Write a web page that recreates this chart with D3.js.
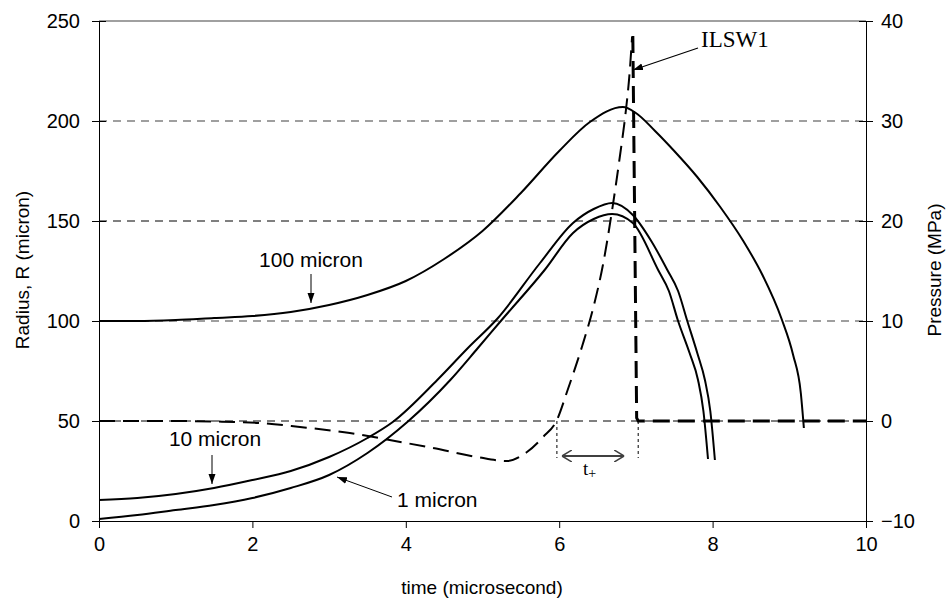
<!DOCTYPE html>
<html>
<head>
<meta charset="utf-8" />
<title>Bubble radius and pressure</title>
<script src="https://d3js.org/d3.v7.min.js"></script>
<style>
  body { margin: 0; background: #fff; }
  text { font-family: "Liberation Sans", Arial, sans-serif; font-size: 20px; fill: #000; }
  .serif { font-family: "Liberation Serif", "Times New Roman", serif; }
</style>
</head>
<body>
<svg id="chart" width="947" height="607"></svg>
<script>
// radius of the 100 micron bubble
var time100 = [0, 0.5, 1.0, 1.5, 2.0, 2.5, 3.0, 3.5, 4.0, 4.5, 5.0, 5.5, 6.0, 6.4, 6.83, 7.0, 7.25, 7.5, 7.8, 8.1, 8.4, 8.65, 8.9, 9.05, 9.15, 9.19];
var radius100 = [100, 100, 100.5, 101.5, 102.5, 104.5, 108, 113, 120, 131, 145, 164, 185, 199.5, 207, 204, 195, 185, 172, 157, 140, 123, 101, 83, 64, 46.5];

// radius of the 10 micron bubble
var time10 = [0, 0.5, 1.0, 1.5, 2.0, 2.5, 3.0, 3.5, 3.83, 4.41, 4.81, 5.19, 5.75, 6.18, 6.45, 6.69, 6.96, 7.2, 7.41, 7.55, 7.67, 7.8, 7.9, 7.97, 8.03];
var radius10 = [10.5, 11.5, 13.5, 16.5, 20.5, 25, 32, 41.5, 49.5, 70.5, 86.5, 101, 129, 149, 156, 159, 153, 140, 125.5, 115, 100, 84, 70.5, 55, 30.5];

// radius of the 1 micron bubble
var time1 = [0, 0.5, 1.0, 1.5, 2.0, 2.5, 3.0, 3.5, 4.02, 4.58, 4.94, 5.25, 5.81, 6.18, 6.45, 6.69, 6.96, 7.29, 7.43, 7.55, 7.7, 7.81, 7.88, 7.94];
var radius1 = [1, 3, 5.5, 8, 11.5, 16.5, 23, 34, 49.5, 70.5, 86.5, 100.5, 125.5, 144, 151, 153.5, 149, 125.5, 115, 100, 84, 70.5, 55, 31];

// pressure (MPa)
var timeP = [0, 1.0, 1.5, 2.1, 2.62, 3.27, 3.79, 4.35, 4.93, 5.32, 5.58, 5.79, 5.97, 6.11, 6.3, 6.45, 6.57, 6.69, 6.79, 6.87, 6.92, 6.95];
var pressure = [0, 0, -0.05, -0.2, -0.6, -1.2, -1.9, -2.7, -3.6, -4.0, -3.1, -1.6, 0.1, 3.1, 7.5, 11.5, 15.6, 21.1, 26.4, 31.1, 35, 38.4];

// ILSW1
var timeW = [6.96, 7.01, 7.03, 10];
var pressureW = [38.5, 0.3, 0, 0];

var xTicks = [0, 2, 4, 6, 8, 10];
var rTicks = [0, 50, 100, 150, 200, 250];
var pTicks = [-10, 0, 10, 20, 30, 40];

var tPlusStart = 5.97, tPlusEnd = 7.03;

var svg = d3.select("#chart");

var x = d3.scaleLinear().domain([0, 10]).range([99, 866]);
var yR = d3.scaleLinear().domain([0, 250]).range([521, 21]);
var yP = d3.scaleLinear().domain([-10, 40]).range([521, 21]);

function zip(a, b) {
    return a.map(function(d, i) { return [d, b[i]]; });
}

// gridlines
svg.append("g").selectAll("line")
    .data(rTicks.slice(1, 5))
    .enter().append("line")
    .attr("x1", x(0)).attr("x2", x(10))
    .attr("y1", function(d) { return yR(d); })
    .attr("y2", function(d) { return yR(d); })
    .attr("stroke", function(d) { return d % 100 == 0 ? "#808080" : "#000"; })
    .attr("stroke-width", function(d) { return d % 100 == 0 ? 1.5 : 1; })
    .attr("stroke-dasharray", "8,6");

svg.append("line")
    .attr("x1", x(0)).attr("x2", x(10))
    .attr("y1", yR(250)).attr("y2", yR(250))
    .attr("stroke", "#808080").attr("stroke-width", 1.5);

// axes
var xAxis = svg.append("g")
    .attr("transform", "translate(0," + yR(0) + ")")
    .call(d3.axisBottom(x).tickValues(xTicks).tickSizeOuter(0).tickSizeInner(7).tickPadding(9));

var leftAxis = svg.append("g")
    .attr("transform", "translate(" + x(0) + ",0)")
    .call(d3.axisLeft(yR).tickValues(rTicks).tickSizeOuter(0).tickSizeInner(7).tickPadding(12));
leftAxis.selectAll(".tick line").attr("x1", 7);

var rightAxis = svg.append("g")
    .attr("transform", "translate(" + x(10) + ",0)")
    .call(d3.axisRight(yP).tickValues(pTicks).tickSizeOuter(0).tickSizeInner(7).tickPadding(8));
rightAxis.selectAll(".tick line").attr("x1", -7);

svg.selectAll(".tick text").style("font-size", "20px").attr("font-family", null);
svg.selectAll(".domain, .tick line").attr("stroke", "#000");

// axis titles
svg.append("text")
    .attr("x", 482).attr("y", 594)
    .attr("text-anchor", "middle")
    .style("font-size", "19px")
    .text("time (microsecond)");

svg.append("text")
    .attr("transform", "translate(29,270) rotate(-90)")
    .attr("text-anchor", "middle")
    .style("font-size", "19px")
    .text("Radius, R (micron)");

svg.append("text")
    .attr("transform", "translate(941,270) rotate(-90)")
    .attr("text-anchor", "middle")
    .style("font-size", "19px")
    .text("Pressure (MPa)");

// markers
var defs = svg.append("defs");
defs.append("marker")
    .attr("id", "head")
    .attr("viewBox", "0 0 10 10")
    .attr("refX", 10).attr("refY", 5)
    .attr("markerWidth", 10).attr("markerHeight", 10)
    .attr("markerUnits", "userSpaceOnUse")
    .attr("orient", "auto")
    .append("path").attr("d", "M0,1.5 L10,5 L0,8.5 Z").attr("fill", "#000");

defs.append("marker")
    .attr("id", "chev")
    .attr("viewBox", "0 0 10 12")
    .attr("refX", 10).attr("refY", 6)
    .attr("markerWidth", 10).attr("markerHeight", 12)
    .attr("markerUnits", "userSpaceOnUse")
    .attr("orient", "auto-start-reverse")
    .append("path").attr("d", "M0,0 L10,6 L0,12").attr("fill", "none")
    .attr("stroke", "#404040").attr("stroke-width", 1.5);

// curves
var lineR = d3.line()
    .x(function(d) { return x(d[0]); })
    .y(function(d) { return yR(d[1]); })
    .curve(d3.curveMonotoneX);

var lineP = d3.line()
    .x(function(d) { return x(d[0]); })
    .y(function(d) { return yP(d[1]); })
    .curve(d3.curveMonotoneX);

[zip(time100, radius100), zip(time10, radius10), zip(time1, radius1)].forEach(function(s) {
    svg.append("path")
        .attr("d", lineR(s))
        .attr("fill", "none")
        .attr("stroke", "#000")
        .attr("stroke-width", 2);
});

svg.append("path")
    .attr("d", lineP(zip(timeP, pressure)))
    .attr("fill", "none")
    .attr("stroke", "#000")
    .attr("stroke-width", 2)
    .attr("stroke-dasharray", "16,8");

svg.append("path")
    .attr("d", lineP.curve(d3.curveLinear)(zip(timeW, pressureW)))
    .attr("fill", "none")
    .attr("stroke", "#000")
    .attr("stroke-width", 3)
    .attr("stroke-dasharray", "17,8");

// t+ annotation
[tPlusStart, tPlusEnd].forEach(function(t) {
    svg.append("line")
        .attr("x1", x(t)).attr("x2", x(t))
        .attr("y1", yP(0)).attr("y2", yP(-3.7))
        .attr("stroke", "#000").attr("stroke-width", 1)
        .attr("stroke-dasharray", "3,3");
});

svg.append("line")
    .attr("x1", x(tPlusStart) + 5).attr("x2", x(tPlusEnd) - 14)
    .attr("y1", yP(-3.5)).attr("y2", yP(-3.5))
    .attr("stroke", "#404040").attr("stroke-width", 2)
    .attr("marker-start", "url(#chev)")
    .attr("marker-end", "url(#chev)");

var tp = svg.append("text")
    .attr("class", "serif")
    .attr("x", 583).attr("y", 475)
    .style("font-size", "19px");
tp.append("tspan").text("t");
tp.append("tspan").attr("dy", 3).style("font-size", "14px").text("+");

// labels with arrows
svg.append("text").attr("x", 311).attr("y", 267).attr("text-anchor", "middle").style("font-size", "21px").text("100 micron");
svg.append("line").attr("x1", 311).attr("y1", 274).attr("x2", 311).attr("y2", 303)
    .attr("stroke", "#000").attr("stroke-width", 1).attr("marker-end", "url(#head)");

svg.append("text").attr("x", 215).attr("y", 446).attr("text-anchor", "middle").style("font-size", "21px").text("10 micron");
svg.append("line").attr("x1", 212).attr("y1", 455).attr("x2", 212).attr("y2", 484)
    .attr("stroke", "#000").attr("stroke-width", 1).attr("marker-end", "url(#head)");

svg.append("text").attr("x", 397).attr("y", 507).style("font-size", "21px").text("1 micron");
svg.append("line").attr("x1", 392).attr("y1", 497).attr("x2", 337).attr("y2", 477)
    .attr("stroke", "#000").attr("stroke-width", 1).attr("marker-end", "url(#head)");

svg.append("text").attr("class", "serif").attr("x", 701).attr("y", 47)
    .style("font-size", "23px").text("ILSW1");
svg.append("line").attr("x1", 698).attr("y1", 48).attr("x2", 633).attr("y2", 70)
    .attr("stroke", "#000").attr("stroke-width", 1.2).attr("marker-end", "url(#head)");
</script>
</body>
</html>
